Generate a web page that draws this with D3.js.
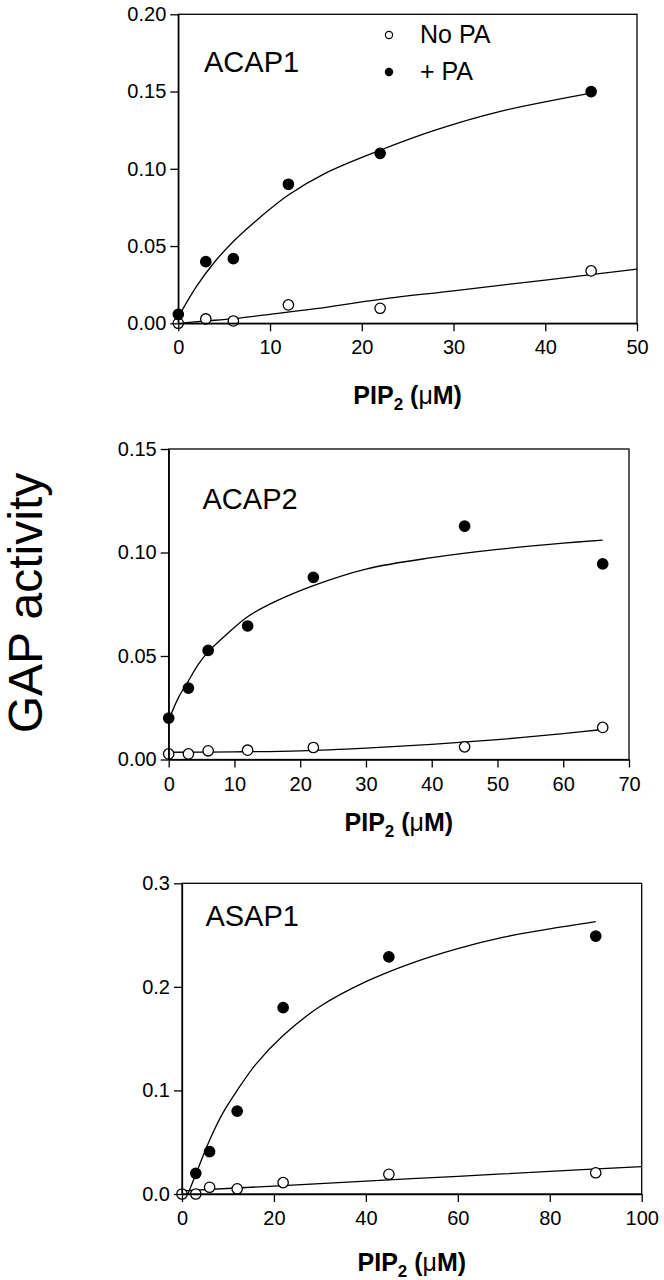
<!DOCTYPE html>
<html><head><meta charset="utf-8">
<script src="https://cdn.jsdelivr.net/npm/d3@7"></script>
<style>
body{margin:0;background:#fff}
svg{display:block}
text{font-family:Arial,"Liberation Sans",Helvetica,sans-serif;fill:#000}
</style>
</head><body>
<svg id="chart" width="664" height="1280"></svg>
<script>
// ---------- DATA ----------
const panelNames = ["ACAP1", "ACAP2", "ASAP1"];
const seriesNames = ["No PA", "+ PA"];

// ACAP1
const acap1X = [0, 3, 6, 12, 22, 45];
const acap1NoPA = [0.000, 0.0028, 0.0015, 0.0119, 0.0097, 0.0339];
const acap1PlusPA = [0.0058, 0.0399, 0.0419, 0.090, 0.110, 0.150];
const acap1FitNoX = [0, 3, 6, 10, 15, 22, 30, 40, 50];
const acap1FitNoY = [0, 0.0015, 0.003, 0.0058, 0.0095, 0.0155, 0.021, 0.028, 0.035];
const acap1FitPlusX = [0, 2, 4, 6, 9, 12, 16, 22, 28, 35, 45];
const acap1FitPlusY = [0.004, 0.024, 0.040, 0.053, 0.069, 0.083, 0.097, 0.112, 0.125, 0.137, 0.149];
const acap1XTicks = [0, 10, 20, 30, 40, 50];
const acap1YTicks = [0, 0.05, 0.10, 0.15, 0.20];

// ACAP2
const acap2X = [0, 3, 6, 12, 22, 45, 66];
const acap2NoPA = [0.0027, 0.0027, 0.0042, 0.0045, 0.0058, 0.0061, 0.0155];
const acap2PlusPA = [0.020, 0.0345, 0.0527, 0.0645, 0.088, 0.1127, 0.0945];
const acap2FitNoX = [0, 10, 20, 30, 40, 50, 60, 66];
const acap2FitNoY = [0.0035, 0.0037, 0.0042, 0.0055, 0.0073, 0.0096, 0.0125, 0.0145];
const acap2FitPlusX = [0, 1.5, 3, 4.5, 6, 9, 12, 16, 22, 30, 40, 50, 60, 66];
const acap2FitPlusY = [0.019, 0.030, 0.038, 0.046, 0.052, 0.061, 0.069, 0.076, 0.084, 0.092, 0.0975, 0.1015, 0.1045, 0.106];
const acap2XTicks = [0, 10, 20, 30, 40, 50, 60, 70];
const acap2YTicks = [0, 0.05, 0.10, 0.15];

// ASAP1
const asap1NoX = [0, 3, 6, 12, 22, 45, 90];
const asap1NoPA = [0, 0, 0.0065, 0.005, 0.011, 0.019, 0.0205];
const asap1PlusX = [3, 6, 12, 22, 45, 90];
const asap1PlusPA = [0.020, 0.041, 0.080, 0.180, 0.229, 0.249];
const asap1FitNoX = [0, 20, 40, 60, 80, 100];
const asap1FitNoY = [0.003, 0.0077, 0.0124, 0.0171, 0.0218, 0.0265];
const asap1FitPlusX = [1.3, 3, 6, 9, 12, 16, 22, 30, 40, 50, 60, 70, 80, 90];
const asap1FitPlusY = [0, 0.019, 0.052, 0.079, 0.100, 0.125, 0.153, 0.181, 0.205, 0.223, 0.237, 0.248, 0.256, 0.263];
const asap1XTicks = [0, 20, 40, 60, 80, 100];
const asap1YTicks = [0, 0.1, 0.2, 0.3];

const zip = (xs, ys) => xs.map((x, i) => [x, ys[i]]);

// ---------- LAYOUT ----------
const panels = [
  {name: panelNames[0], box: [178.3, 14.3, 637, 323.3], xDom: [0, 50], yDom: [0, 0.20],
   xTicks: acap1XTicks, yTicks: acap1YTicks, yFmt: ".2f",
   noPts: zip(acap1X, acap1NoPA), plusPts: zip(acap1X, acap1PlusPA),
   noFit: zip(acap1FitNoX, acap1FitNoY), plusFit: zip(acap1FitPlusX, acap1FitPlusY),
   label: [204, 72], titleY: 404, legend: true},
  {name: panelNames[1], box: [168.7, 449, 629, 759.5], xDom: [0, 70], yDom: [0, 0.15],
   xTicks: acap2XTicks, yTicks: acap2YTicks, yFmt: ".2f",
   noPts: zip(acap2X, acap2NoPA), plusPts: zip(acap2X, acap2PlusPA),
   noFit: zip(acap2FitNoX, acap2FitNoY), plusFit: zip(acap2FitPlusX, acap2FitPlusY),
   label: [202.5, 508.5], titleY: 831, legend: false},
  {name: panelNames[2], box: [182, 883.3, 641.7, 1194], xDom: [0, 100], yDom: [0, 0.3],
   xTicks: asap1XTicks, yTicks: asap1YTicks, yFmt: ".1f",
   noPts: zip(asap1NoX, asap1NoPA), plusPts: zip(asap1PlusX, asap1PlusPA),
   noFit: zip(asap1FitNoX, asap1FitNoY), plusFit: zip(asap1FitPlusX, asap1FitPlusY),
   label: [205.4, 925.5], titleY: 1271, legend: false}
];

const svg = d3.select("#chart");
const SW = 1.3;

panels.forEach(p => {
  const [x0, y0, x1, y1] = p.box;
  const x = d3.scaleLinear().domain(p.xDom).range([x0, x1]);
  const y = d3.scaleLinear().domain(p.yDom).range([y1, y0]);
  const g = svg.append("g");

  const line = d3.line().x(d => x(d[0])).y(d => y(d[1])).curve(d3.curveCatmullRom.alpha(0.5));
  [p.noFit, p.plusFit].forEach(f => {
    g.append("path").attr("d", line(f)).attr("fill", "none")
      .attr("stroke", "#000").attr("stroke-width", SW);
  });

  g.selectAll(".no").data(p.noPts).join("circle")
    .attr("cx", d => x(d[0])).attr("cy", d => y(d[1])).attr("r", 5.2)
    .attr("fill", "#fff").attr("stroke", "#000").attr("stroke-width", SW);
  g.selectAll(".plus").data(p.plusPts).join("circle")
    .attr("cx", d => x(d[0])).attr("cy", d => y(d[1])).attr("r", 5.2)
    .attr("fill", "#000").attr("stroke", "#000").attr("stroke-width", SW);

  // frame
  g.append("rect").attr("x", x0).attr("y", y0).attr("width", x1 - x0).attr("height", y1 - y0)
    .attr("fill", "none").attr("stroke", "#000").attr("stroke-width", SW);

  const xa = g.append("g").attr("transform", `translate(0,${y1})`)
    .call(d3.axisBottom(x).tickValues(p.xTicks).tickFormat(d3.format("d")).tickSize(8).tickPadding(9).tickSizeOuter(0));
  const ya = g.append("g").attr("transform", `translate(${x0},0)`)
    .call(d3.axisLeft(y).tickValues(p.yTicks).tickFormat(d3.format(p.yFmt)).tickSize(8).tickPadding(4).tickSizeOuter(0));
  [xa, ya].forEach(a => {
    a.select(".domain").attr("stroke-width", SW);
    a.selectAll(".tick line").attr("stroke-width", SW);
    a.selectAll("text").attr("font-size", 20).attr("font-family", "Arial, 'Liberation Sans', sans-serif");
  });

  g.append("text").attr("x", p.label[0]).attr("y", p.label[1])
    .attr("font-size", 29).text(p.name);

  const t = g.append("text").attr("x", (x0 + x1) / 2).attr("y", p.titleY)
    .attr("text-anchor", "middle").attr("font-size", 25).attr("font-weight", "bold");
  t.append("tspan").text("PIP");
  t.append("tspan").attr("font-size", 17).attr("dy", 6).text("2");
  t.append("tspan").attr("dy", -6).text(" (");
  t.append("tspan").attr("font-weight", "normal").text("μ");
  t.append("tspan").text("M)");

  if (p.legend) {
    const lg = g.append("g");
    [[35, false, seriesNames[0], 43], [72, true, seriesNames[1], 80]].forEach(([cy, filled, name, by]) => {
      lg.append("circle").attr("cx", 389).attr("cy", cy).attr("r", 3.6)
        .attr("fill", filled ? "#000" : "#fff").attr("stroke", "#000").attr("stroke-width", 1.2);
      lg.append("text").attr("x", 420).attr("y", by).attr("font-size", 25).text(name);
    });
  }
});

svg.append("text")
  .attr("transform", "translate(41.7,603) rotate(-90)")
  .attr("text-anchor", "middle").attr("font-size", 48).text("GAP activity");
</script>
</body></html>
